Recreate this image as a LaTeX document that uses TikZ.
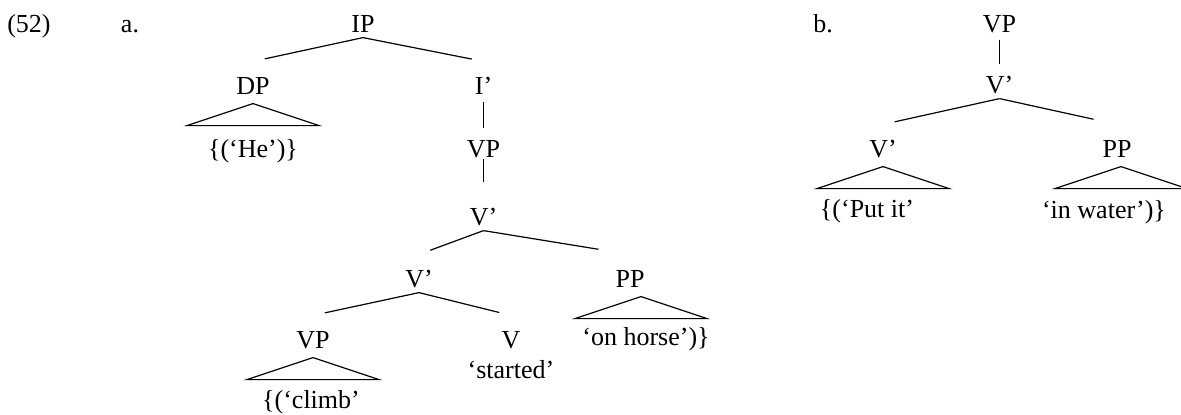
\documentclass[tikz,border=0pt]{standalone}
\usepackage{fontspec}
\setmainfont{Liberation Serif}
\usetikzlibrary{positioning}

\tikzset{
  cat/.style={anchor=base, inner sep=0pt, text height=16pt, text depth=2.5pt,
              font=\fontsize{13pt}{15pt}\selectfont},
  leaf/.style={cat},
  branch/.style={shorten >=6pt},
  unary/.style={shorten <=1pt, shorten >=-2pt}
}
% triangle under a phrase node
\newcommand{\roof}[2][0pt]{\draw ([xshift=#1,yshift=-2pt]#2.south) -- ++(-33pt,-11pt) -- ++(66pt,0pt) -- cycle;}

\begin{document}
\begin{tikzpicture}[x=0.5pt,y=-0.5pt,line width=0.6pt,node distance=30pt,on grid]
    \useasboundingbox (0,0) rectangle (1181,414);

    \node[cat] (ex) at (29,32) {(52)};
    \node[cat] (a) at (130,32) {a.};
    \node[cat] (b) at (823,32) {b.};

    % tree a
    \node[cat] (IP) at (363,32) {IP};
    \node[cat] (DP) at (253,94) {DP};
    \node[cat] (I1) at (483.5,94) {I’};
    \node[cat] (VP1) at (483.5,157) {VP};
    \node[cat] (V1) at (483.5,225) {V’};
    \node[cat] (V2) at (419,287) {V’};
    \node[cat] (PP1) at (630,287) {PP};
    \node[cat] (VP2) at (313,348) {VP};
    \node[cat] (V0) at (511,348) {V};
    \node[leaf] (he) [below=31.5pt of DP] {\{(‘He’)\}};
    \node[leaf] (climb) [below=30pt of VP2, xshift=-1pt] {\{(‘climb’};
    \node[leaf] (started) [below=15pt of V0] {‘started’};
    \node[leaf] (horse) [below=29pt of PP1, xshift=8pt] {‘on horse’)\}};

    \draw[branch] (IP.south) -- (DP.north);
    \draw[branch] (IP.south) -- (I1.north);
    \draw[unary] (I1.south) -- (VP1.north);
    \draw[unary, shorten <=-2pt, shorten >=5pt] (VP1.south) -- (V1.north);
    \draw[branch] (V1.south) -- (V2.north);
    \draw[branch, shorten >=16pt] (V1.south) -- (PP1.north);
    \draw[branch] (V2.south) -- (VP2.north);
    \draw[branch] (V2.south) -- (V0.north);
    \roof{DP}
    \roof{VP2}
    \roof[5.5pt]{PP1}

    % tree b
    \node[cat] (VP3) at (999.5,32) {VP};
    \node[cat] (V3) at (999.5,93) {V’};
    \node[cat] (V4) at (883,157) {V’};
    \node[cat] (PP2) at (1117,157) {PP};
    \node[leaf] (put) [below=30pt of V4, xshift=-8pt] {\{(‘Put it’};
    \node[leaf] (water) [below=30.5pt of PP2, xshift=-6.5pt] {‘in water’)\}};

    \draw[unary] (VP3.south) -- (V3.north);
    \draw[branch] (V3.south) -- (V4.north);
    \draw[branch, shorten >=12pt] (V3.south) -- (PP2.north);
    \roof{V4}
    \roof[2pt]{PP2}
\end{tikzpicture}
\end{document}
